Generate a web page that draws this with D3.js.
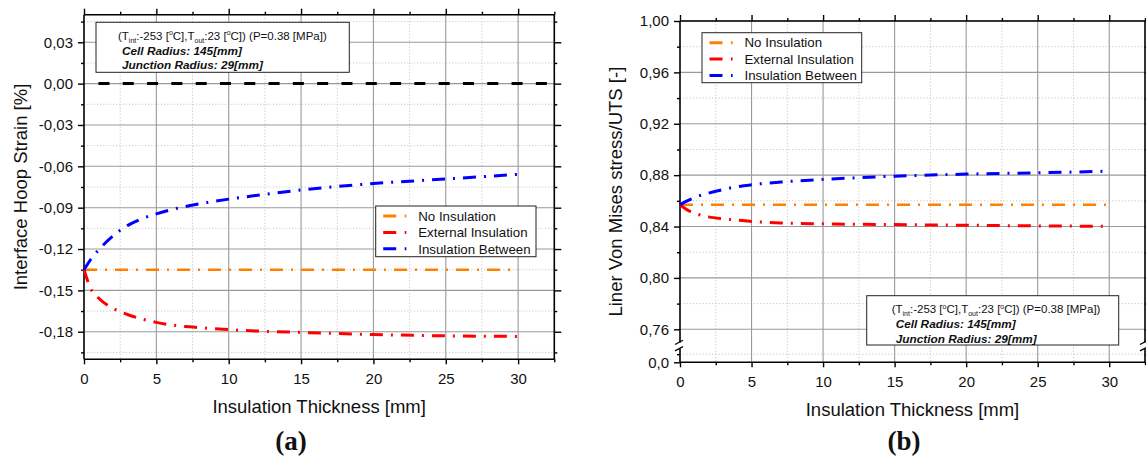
<!DOCTYPE html>
<html>
<head>
<meta charset="utf-8">
<script src="https://cdn.jsdelivr.net/npm/d3@7/dist/d3.min.js"></script>
<style>
  html, body { margin: 0; padding: 0; background: #fff; }
  svg { display: block; font-family: "Liberation Sans", Arial, sans-serif; }
</style>
</head>
<body>
<svg id="chart" width="1146" height="461"></svg>
<script>
// ---------------- DATA ----------------
const thickness = [0, 0.5, 1, 2, 3, 4, 5, 6, 7, 8, 10, 12, 15, 20, 25, 30];

// (a) Interface hoop strain [%]
const strainNoInsulation = [-0.135, -0.135, -0.135, -0.135, -0.135, -0.135, -0.135, -0.135, -0.135, -0.135, -0.135, -0.135, -0.135, -0.135, -0.135, -0.135];
const strainExternal     = [-0.135, -0.1495, -0.1555, -0.1630, -0.1675, -0.1708, -0.1732, -0.1750, -0.1762, -0.1770, -0.1785, -0.1795, -0.1805, -0.1820, -0.1830, -0.1834];
const strainBetween      = [-0.135, -0.1270, -0.1208, -0.1105, -0.1030, -0.0980, -0.0945, -0.0915, -0.0892, -0.0872, -0.0838, -0.0810, -0.0772, -0.0725, -0.0692, -0.0658];
const strainRefX = [1, 32.5];
const strainRefY = [0, 0];

// (b) Liner von Mises stress / UTS [-]
const stressNoInsulation = [0.857, 0.857, 0.857, 0.857, 0.857, 0.857, 0.857, 0.857, 0.857, 0.857, 0.857, 0.857, 0.857, 0.857, 0.857, 0.857];
const stressExternal     = [0.857, 0.8530, 0.8505, 0.8475, 0.8460, 0.8450, 0.8440, 0.8433, 0.8428, 0.8425, 0.8421, 0.8418, 0.8415, 0.8410, 0.8405, 0.8402];
const stressBetween      = [0.857, 0.8600, 0.8625, 0.8660, 0.8688, 0.8710, 0.8725, 0.8737, 0.8746, 0.8754, 0.8767, 0.8778, 0.8792, 0.8808, 0.8818, 0.8831];

const seriesNames = ["No Insulation", "External Insulation", "Insulation Between"];

const xTicks = [0, 5, 10, 15, 20, 25, 30];
const xTickLabels = ["0", "5", "10", "15", "20", "25", "30"];
const xMinorTicks = [2.5, 7.5, 12.5, 17.5, 22.5, 27.5, 32.5];

const strainTicks = [-0.18, -0.15, -0.12, -0.09, -0.06, -0.03, 0, 0.03];
const strainTickLabels = ["-0,18", "-0,15", "-0,12", "-0,09", "-0,06", "-0,03", "0,00", "0,03"];
const strainMinorTicks = [-0.195, -0.165, -0.135, -0.105, -0.075, -0.045, -0.015, 0.015, 0.045];

const stressTicks = [0, 0.76, 0.80, 0.84, 0.88, 0.92, 0.96, 1.00];
const stressTickLabels = ["0,0", "0,76", "0,80", "0,84", "0,88", "0,92", "0,96", "1,00"];
const stressMinorTicks = [0.05, 0.78, 0.82, 0.86, 0.90, 0.94, 0.98];
const stressBreak = [0.1, 0.747];

const noteLines = ["Cell Radius: 145[mm]", "Junction Radius: 29[mm]"];

// ---------------- STYLE ----------------
const colors = ["#FF8000", "#FF0000", "#0000FF"];
const widths = [2.6, 3, 3];
const dashDot = "13,8,2,8";
const legendDash = "13,8.5,1.6,30";

const svg = d3.select("#chart");
svg.append("rect").attr("width", 1146).attr("height", 461).attr("fill", "#fff");

function panel(cfg) {
  const g = svg.append("g").attr("transform", `translate(${cfg.left},${cfg.top})`);
  const W = cfg.width, H = cfg.height;
  const x = d3.scaleLinear().domain([0, 32.5]).range([0, W]);
  const y = cfg.yScale(H);

  // minor grid
  g.append("g").selectAll("line").data(xMinorTicks.filter(d => d < 32.5)).join("line")
    .attr("x1", d => x(d)).attr("x2", d => x(d)).attr("y1", 0).attr("y2", H)
    .attr("stroke", "#c8c8c8").attr("stroke-width", 1).attr("stroke-dasharray", "1.2,2");
  g.append("g").selectAll("line").data(cfg.yMinor).join("line")
    .attr("x1", 0).attr("x2", W).attr("y1", d => y(d)).attr("y2", d => y(d))
    .attr("stroke", "#c8c8c8").attr("stroke-width", 1).attr("stroke-dasharray", "1.2,2");
  // major grid
  g.append("g").selectAll("line").data(xTicks.filter(d => d > 0)).join("line")
    .attr("x1", d => x(d)).attr("x2", d => x(d)).attr("y1", 0).attr("y2", H)
    .attr("stroke", "#9a9a9a").attr("stroke-width", 1.1);
  g.append("g").selectAll("line").data(cfg.yTicks.filter(d => d !== cfg.yBottomValue)).join("line")
    .attr("x1", 0).attr("x2", W).attr("y1", d => y(d)).attr("y2", d => y(d))
    .attr("stroke", "#9a9a9a").attr("stroke-width", 1.1);

  // axes (four sides, outward ticks)
  const axStyle = sel => { sel.select(".domain").remove(); sel.selectAll("line").attr("stroke", "#000").attr("stroke-width", 1.4); };
  const bottom = g.append("g").attr("transform", `translate(0,${H})`)
    .call(d3.axisBottom(x).tickValues(xTicks).tickSize(5).tickFormat((d, i) => xTickLabels[i]));
  axStyle(bottom);
  bottom.selectAll("text").attr("font-size", 15).attr("fill", "#111").attr("dy", "1.1em");
  const bottomMinor = g.append("g").attr("transform", `translate(0,${H})`)
    .call(d3.axisBottom(x).tickValues(xMinorTicks).tickSize(3).tickFormat(""));
  axStyle(bottomMinor);
  const top = g.append("g").call(d3.axisTop(x).tickValues(xTicks).tickSize(6).tickFormat(""));
  axStyle(top);
  const topMinor = g.append("g").call(d3.axisTop(x).tickValues(xMinorTicks).tickSize(3).tickFormat(""));
  axStyle(topMinor);

  const left = g.append("g").call(d3.axisLeft(y).tickValues(cfg.yTicks).tickSize(6)
    .tickFormat((d, i) => cfg.yTickLabels[i]));
  axStyle(left);
  left.selectAll("text").attr("font-size", 15).attr("fill", "#111").attr("x", -11);
  const leftMinor = g.append("g").call(d3.axisLeft(y).tickValues(cfg.yMinor).tickSize(3).tickFormat(""));
  axStyle(leftMinor);
  const right = g.append("g").attr("transform", `translate(${W},0)`)
    .call(d3.axisRight(y).tickValues(cfg.yTicks).tickSize(7).tickFormat(""));
  axStyle(right);
  const rightMinor = g.append("g").attr("transform", `translate(${W},0)`)
    .call(d3.axisRight(y).tickValues(cfg.yMinor).tickSize(3).tickFormat(""));
  axStyle(rightMinor);

  // frame
  const frame = g.append("g").attr("stroke", "#000").attr("stroke-width", 1.6).attr("fill", "none");
  frame.append("line").attr("x1", 0).attr("x2", W).attr("y1", 0).attr("y2", 0);
  frame.append("line").attr("x1", 0).attr("x2", W).attr("y1", H).attr("y2", H);
  if (cfg.breakAt) {
    const yb = y(cfg.breakAt);
    [0, W].forEach(xx => {
      frame.append("line").attr("x1", xx).attr("x2", xx).attr("y1", 0).attr("y2", yb - 3.5);
      frame.append("line").attr("x1", xx).attr("x2", xx).attr("y1", yb + 3).attr("y2", H);
      frame.append("line").attr("x1", xx - 5).attr("x2", xx + 3).attr("y1", yb - 1.5).attr("y2", yb - 5.8).attr("stroke-width", 1.3);
      frame.append("line").attr("x1", xx - 5).attr("x2", xx + 3).attr("y1", yb + 4.8).attr("y2", yb + 0.6).attr("stroke-width", 1.3);
    });
  } else {
    frame.append("line").attr("x1", 0).attr("x2", 0).attr("y1", 0).attr("y2", H);
    frame.append("line").attr("x1", W).attr("x2", W).attr("y1", 0).attr("y2", H);
  }

  // titles
  svg.append("text").attr("x", cfg.left + W / 2).attr("y", cfg.top + H + 53.5)
    .attr("text-anchor", "middle").attr("font-size", 18.5).attr("fill", "#111")
    .text("Insulation Thickness [mm]");
  svg.append("text").attr("transform", `translate(${cfg.yTitleX},${cfg.top + H / 2}) rotate(-90)`)
    .attr("text-anchor", "middle").attr("font-size", 18.5).attr("fill", "#111")
    .text(cfg.yTitle);
  svg.append("text").attr("x", cfg.panelLabelX).attr("y", 450)
    .attr("text-anchor", "middle").attr("font-family", "'Liberation Serif', 'Times New Roman', serif")
    .attr("font-weight", "bold").attr("font-size", 27).attr("fill", "#111").text(cfg.panelLabel);

  // data lines
  const line = d3.line().x(d => x(d[0])).y(d => y(d[1])).curve(d3.curveMonotoneX);
  if (cfg.ref) {
    g.append("path").datum(cfg.ref[0].map((d, i) => [d, cfg.ref[1][i]])).attr("d", line)
      .attr("fill", "none").attr("stroke", "#000").attr("stroke-width", 3).attr("stroke-dasharray", "11,13.3");
  }
  cfg.series.forEach((s, k) => {
    g.append("path").datum(thickness.map((d, i) => [d, s[i]])).attr("d", line)
      .attr("fill", "none").attr("stroke", colors[k]).attr("stroke-width", widths[k])
      .attr("stroke-dasharray", dashDot);
  });

  // legend
  const L = cfg.legend;
  const lg = svg.append("g").attr("transform", `translate(${L.x},${L.y})`);
  lg.append("rect").attr("width", L.w).attr("height", L.h).attr("fill", "#fff")
    .attr("stroke", "#222").attr("stroke-width", 1);
  seriesNames.forEach((name, k) => {
    const cy = 10 + k * 16.4;
    lg.append("line").attr("x1", 7.5).attr("x2", 33).attr("y1", cy).attr("y2", cy)
      .attr("stroke", colors[k]).attr("stroke-width", 3).attr("stroke-dasharray", legendDash);
    lg.append("text").attr("x", 42.5).attr("y", cy + 4.7).attr("font-size", 13.3).attr("fill", "#111").text(name);
  });

  // note box
  const N = cfg.note;
  const ng = svg.append("g").attr("transform", `translate(${N.x},${N.y})`);
  ng.append("rect").attr("width", N.w).attr("height", N.h).attr("fill", "#fff")
    .attr("stroke", "#222").attr("stroke-width", 1);
  const t1 = ng.append("text").attr("x", N.tx).attr("y", 17.5).attr("font-size", 11.5).attr("fill", "#111");
  const parts = [
    ["(T", 0], ["int", 1], [":-253 [", -1], ["o", 2], ["C],T", -2], ["out", 1], [":23 [", -1], ["o", 2], ["C]) (P=0.38 [MPa])", -2]
  ];
  parts.forEach(([txt, kind]) => {
    const ts = t1.append("tspan").text(txt);
    if (kind === 1) ts.attr("font-size", 7).attr("dy", 3);
    if (kind === -1) ts.attr("dy", -3);
    if (kind === 2) ts.attr("font-size", 7).attr("dy", -4.5);
    if (kind === -2) ts.attr("dy", 4.5);
  });
  noteLines.forEach((txt, i) => {
    ng.append("text").attr("x", N.tx + 4).attr("y", 32.3 + i * 14.7).attr("font-size", 11.8)
      .attr("font-weight", "bold").attr("font-style", "italic").attr("fill", "#111").text(txt);
  });
}

// Panel (a)
panel({
  left: 84, top: 14.7, width: 470.3, height: 344.6,
  yScale: H => d3.scaleLinear().domain([-0.2, 0.05]).range([H, 0]),
  yTicks: strainTicks, yTickLabels: strainTickLabels, yMinor: strainMinorTicks, yBottomValue: -999,
  yTitle: "Interface Hoop Strain [%]", yTitleX: 26.5,
  panelLabel: "(a)", panelLabelX: 291,
  series: [strainNoInsulation, strainExternal, strainBetween],
  ref: [strainRefX, strainRefY],
  legend: { x: 375.7, y: 206, w: 160.3, h: 50.7 },
  note: { x: 96, y: 22.3, w: 253.3, h: 50, tx: 22 }
});

// Panel (b) with broken y axis
panel({
  left: 680, top: 21, width: 465, height: 341.3,
  yScale: H => d3.scaleLinear().domain([0, stressBreak[0], stressBreak[1], 1.0]).range([H, H - 16.3, H - 16.3, 0]),
  yTicks: stressTicks, yTickLabels: stressTickLabels, yMinor: stressMinorTicks, yBottomValue: 0,
  breakAt: stressBreak[1],
  yTitle: "Liner Von Mises stress/UTS [-]", yTitleX: 622,
  panelLabel: "(b)", panelLabelX: 904,
  series: [stressNoInsulation, stressExternal, stressBetween],
  legend: { x: 702, y: 32.7, w: 159.7, h: 50 },
  note: { x: 866.7, y: 295.7, w: 252, h: 49.3, tx: 25 }
});
</script>
</body>
</html>
